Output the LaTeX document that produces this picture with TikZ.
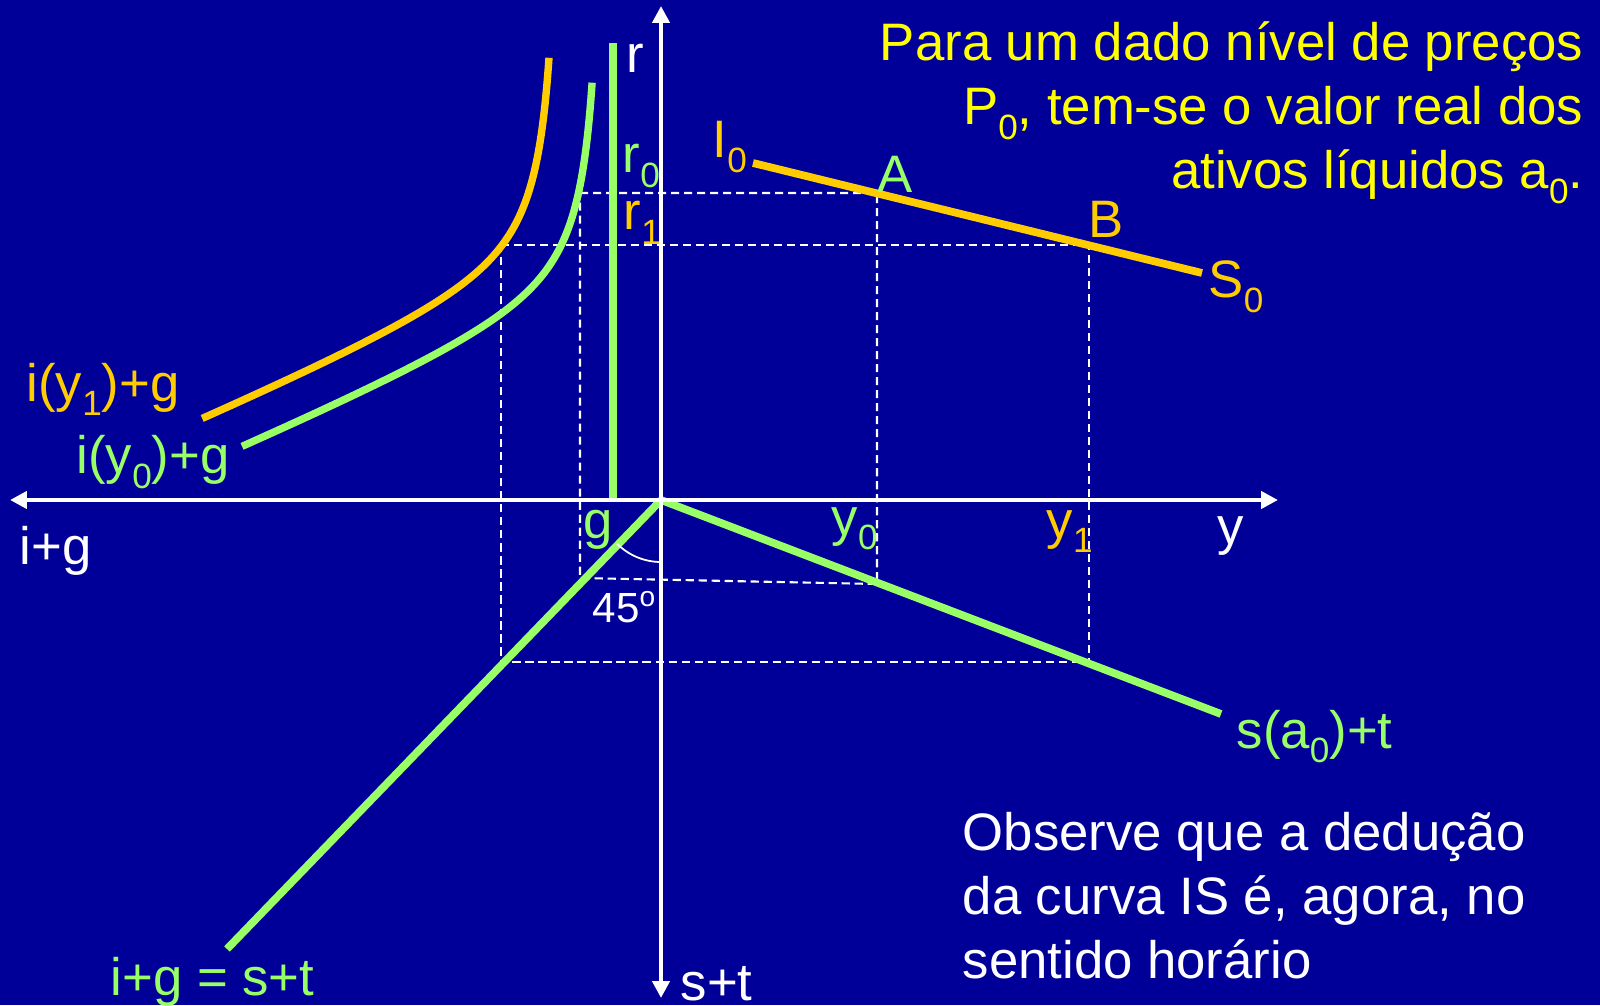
\documentclass[tikz,border=0pt]{standalone}
\usepackage{fontspec}
\setmainfont{Liberation Sans}
\usetikzlibrary{arrows.meta}
\definecolor{SlideBlue}{HTML}{000099}
\definecolor{CurveGreen}{HTML}{99FF66}
\definecolor{CurveOrange}{HTML}{FFCC00}
\definecolor{NoteYellow}{HTML}{FFFF00}
\newcommand{\lo}[1]{\raisebox{-4pt}{\fontsize{10}{10}\selectfont #1}}
\tikzset{
    % Line styles
    axisline/.style={
        <->,
        >={Triangle[length=4.8pt,width=4.8pt]},
        line width=1.4pt,
        draw=white
    },
    greenline/.style={
        line width=2.2pt,
        draw=CurveGreen
    },
    orangeline/.style={
        line width=2.1pt,
        draw=CurveOrange
    },
    guide/.style={
        draw=white,
        line width=0.6pt,
        dash pattern=on 2.3pt off 1.4pt
    },
    % Label style
    lbl/.style={
        inner sep=0pt,
        anchor=base west,
        text=white,
        font=\fontsize{15}{18}\selectfont
    }
}
\begin{document}
\begin{tikzpicture}[x=0.1mm, y=-0.1mm]
    \fill[SlideBlue] (0,0) rectangle (1600,1005);

    % points
    \coordinate (O) at (661,500);
    \coordinate (axL) at (10,500);
    \coordinate (axR) at (1278,500);
    \coordinate (axT) at (661,6);
    \coordinate (axB) at (661,998);
    \coordinate (rTop) at (613,43);
    \coordinate (rBot) at (613,500);
    \coordinate (I0) at (753,163);
    \coordinate (S0) at (1202,273);
    \coordinate (A) at (877,193);
    \coordinate (B) at (1089,245);
    \coordinate (sEnd) at (1221,714);
    \coordinate (dEnd) at (227,949);
    \coordinate (cA) at (580,193);
    \coordinate (cB) at (501,245);
    \coordinate (yA) at (877,584);
    \coordinate (yB) at (1089,662);
    \coordinate (gA) at (580,578);
    \coordinate (gB) at (501,662);

    \draw[guide] (cA) -- (A) -- (yA) -- (gA) -- cycle;
    \draw[guide] (cB) -- (B) -- (yB) -- (gB) -- cycle;

    % i(y1)+g and i(y0)+g
    \draw[orangeline] plot[domain=2.773:5.894, samples=80, variable=\t]
        ({565-exp(\t)}, {276+0.42*exp(\t)-3600/exp(\t)});
    \draw[greenline, line width=2.1pt] plot[domain=2.766:5.903, samples=80, variable=\t]
        ({608-exp(\t)}, {302.5+0.42*exp(\t)-3600/exp(\t)});

    \draw[greenline] (rTop) -- (rBot);
    \draw[orangeline, line width=2.2pt] (I0) -- (S0);
    \draw[greenline] (O) -- (sEnd);
    \draw[greenline] (O) -- (dEnd);

    \draw[axisline] (axL) -- (axR);
    \draw[axisline] (axB) -- (axT);
    \draw[white, line width=0.5pt] (O) ++(90:62) arc[start angle=90, end angle=135, radius=62];

    \node[lbl] (lr) at (626,73) {r};
    \node[lbl, text=CurveGreen] (lr0) at (622,173) {r\lo{0}};
    \node[lbl, text=CurveOrange] (lr1) at (623,230) {r\lo{1}};
    \node[lbl, text=CurveOrange] (lI0) at (712,158) {I\lo{0}};
    \node[lbl, text=CurveGreen] (lA) at (877,193) {A};
    \node[lbl, text=CurveOrange] (lB) at (1088,238) {B};
    \node[lbl, text=CurveOrange] (lS0) at (1208,298) {S\lo{0}};
    \node[lbl, text=CurveOrange] (liy1) at (26,401) {i(y\lo{1})+g};
    \node[lbl, text=CurveGreen] (liy0) at (76,474) {i(y\lo{0})+g};
    \node[lbl] (lig) at (19,564) {i+g};
    \node[lbl, text=CurveGreen] (lg) at (583,538) {g};
    \node[lbl, text=CurveGreen] (ly0) at (831,535) {y\lo{0}};
    \node[lbl, text=CurveOrange] (ly1) at (1046,538) {y\lo{1}};
    \node[lbl] (ly) at (1217,544) {y};
    \node[lbl, font=\fontsize{12}{14}\selectfont] (l45) at (592,622) {45\textsuperscript{o}};
    \node[lbl, text=CurveGreen] (lsa) at (1236,748) {s(a\lo{0})+t};
    \node[lbl, text=CurveGreen] (leq) at (110,995) {i+g = s+t};
    \node[lbl] (lst) at (680,1000) {s+t};

    \node[lbl, anchor=base east, text=NoteYellow] (n1) at (1584,61) {Para um dado nível de preços};
    \node[lbl, anchor=base east, text=NoteYellow] (n2) at (1584,125) {P\lo{0}, tem-se o valor real dos};
    \node[lbl, anchor=base east, text=NoteYellow] (n3) at (1584,189) {ativos líquidos a\lo{0}.};

    \node[lbl] (o1) at (962,850) {Observe que a dedução};
    \node[lbl] (o2) at (962,914) {da curva IS é, agora, no};
    \node[lbl] (o3) at (962,978) {sentido horário};
\end{tikzpicture}
\end{document}
